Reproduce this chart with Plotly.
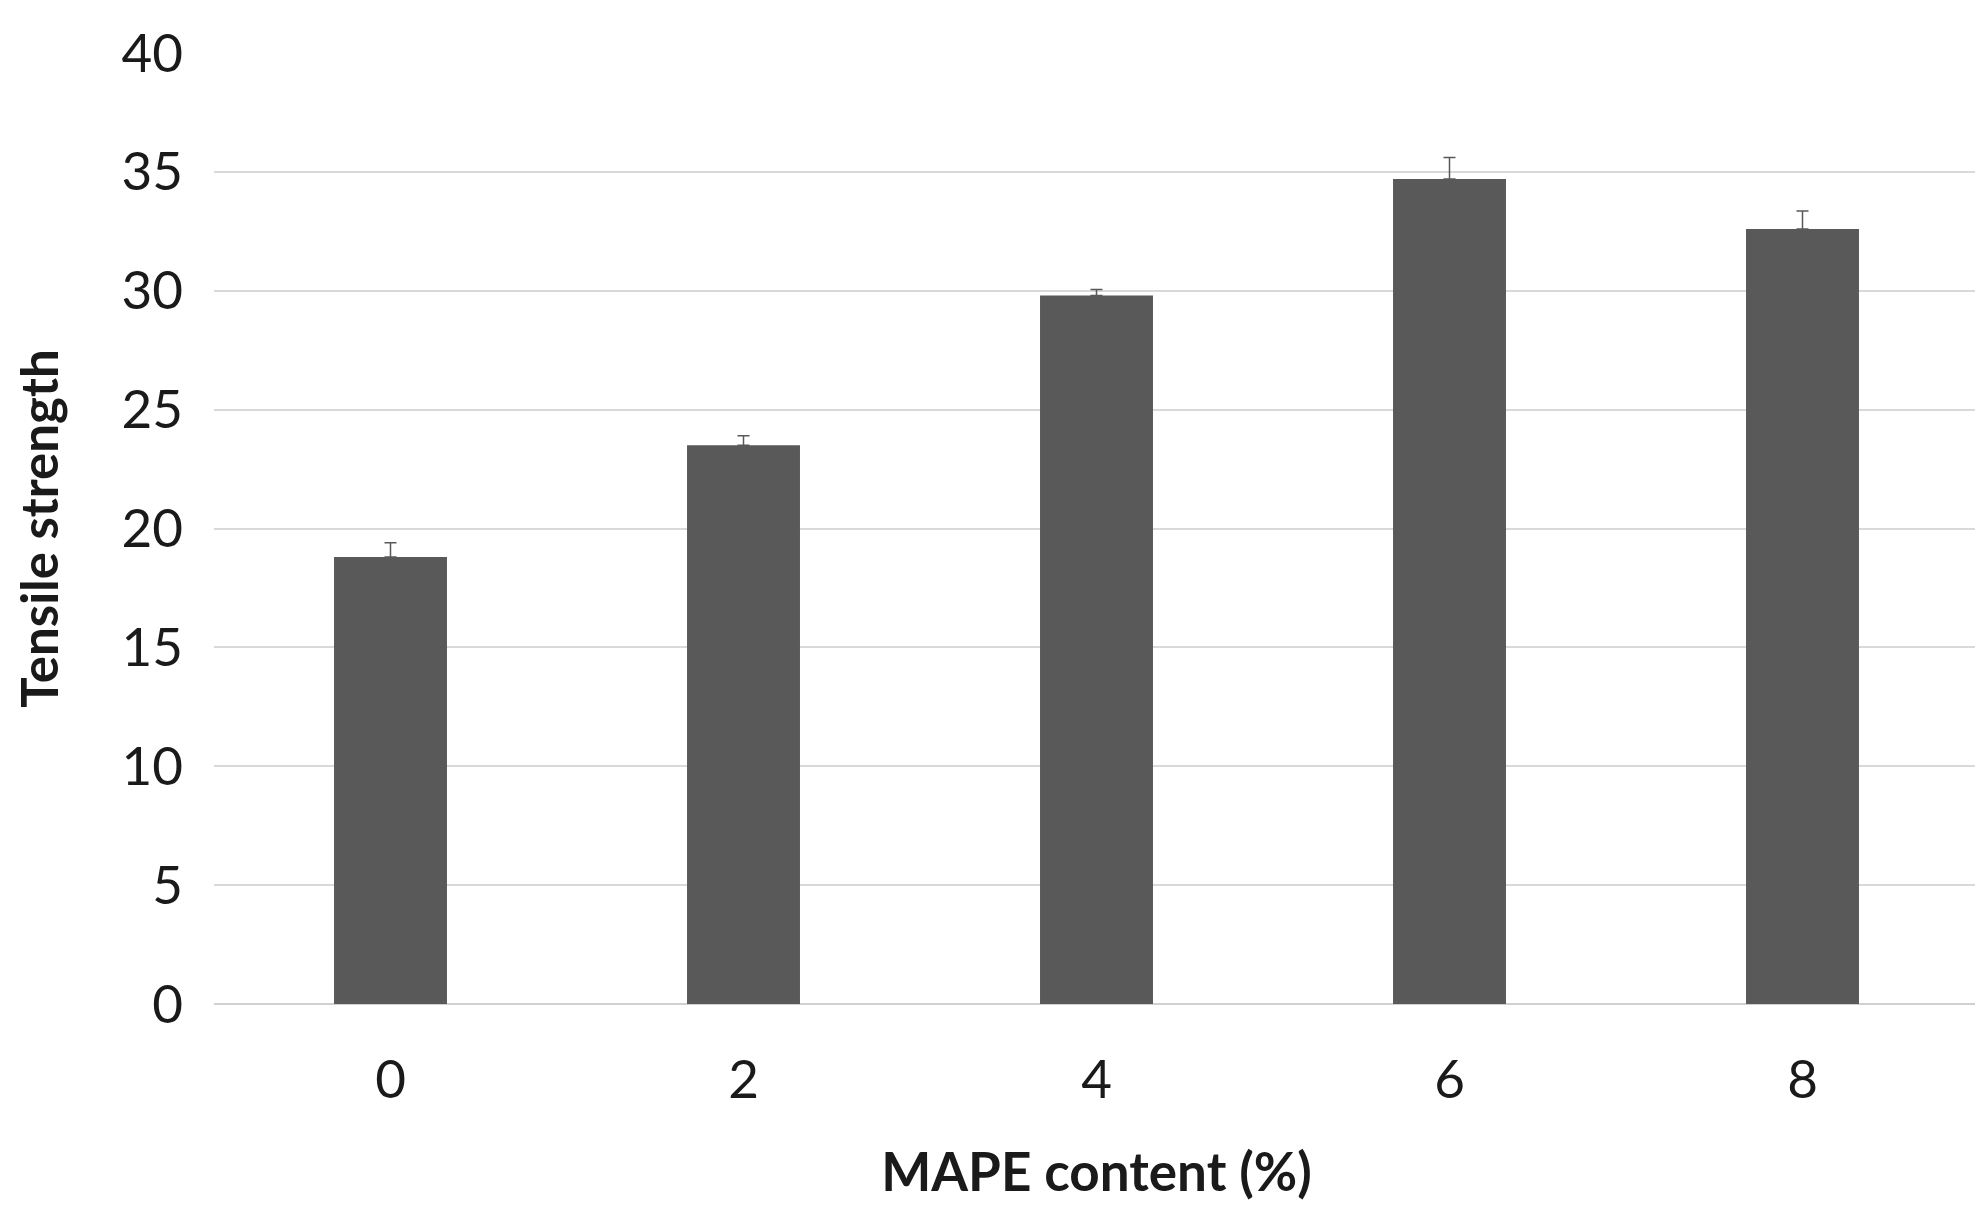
import plotly.graph_objects as go

mape = ["0", "2", "4", "6", "8"]
tensile = [18.8, 23.5, 29.8, 34.7, 32.6]
err_plus = [0.6, 0.4, 0.25, 0.9, 0.75]
err_minus = [0, 0, 0, 0, 0]

fig = go.Figure(go.Bar(
    x=mape, y=tensile, width=0.32,
    marker=dict(color="#595959", line=dict(width=0)),
    error_y=dict(type="data", symmetric=False, array=err_plus, arrayminus=err_minus,
                 color="#595959", thickness=1.5, width=6),
))

fig.update_layout(
    width=1983, height=1222,
    paper_bgcolor="white", plot_bgcolor="white",
    margin=dict(l=206, r=12, t=36, b=226),
    font=dict(family="Lato, Open Sans, sans-serif", color="#1a1a1a"),
    showlegend=False,
)
fig.update_xaxes(
    tickfont=dict(size=53), ticks="", showgrid=False,
    ticklabelstandoff=40,
    title=dict(text="<b>MAPE content (%)</b>", font=dict(size=53), standoff=45),
)
fig.update_yaxes(
    range=[0, 40], dtick=5, tickfont=dict(size=53),
    showgrid=True, gridcolor="#d9d9d9", gridwidth=1.5,
    zeroline=True, zerolinecolor="#d0d0d0", zerolinewidth=1.5,
    ticklabelstandoff=30,
    title=dict(text="<b>Tensile strength</b>", font=dict(size=51), standoff=50),
)

fig.write_html("out.html")
